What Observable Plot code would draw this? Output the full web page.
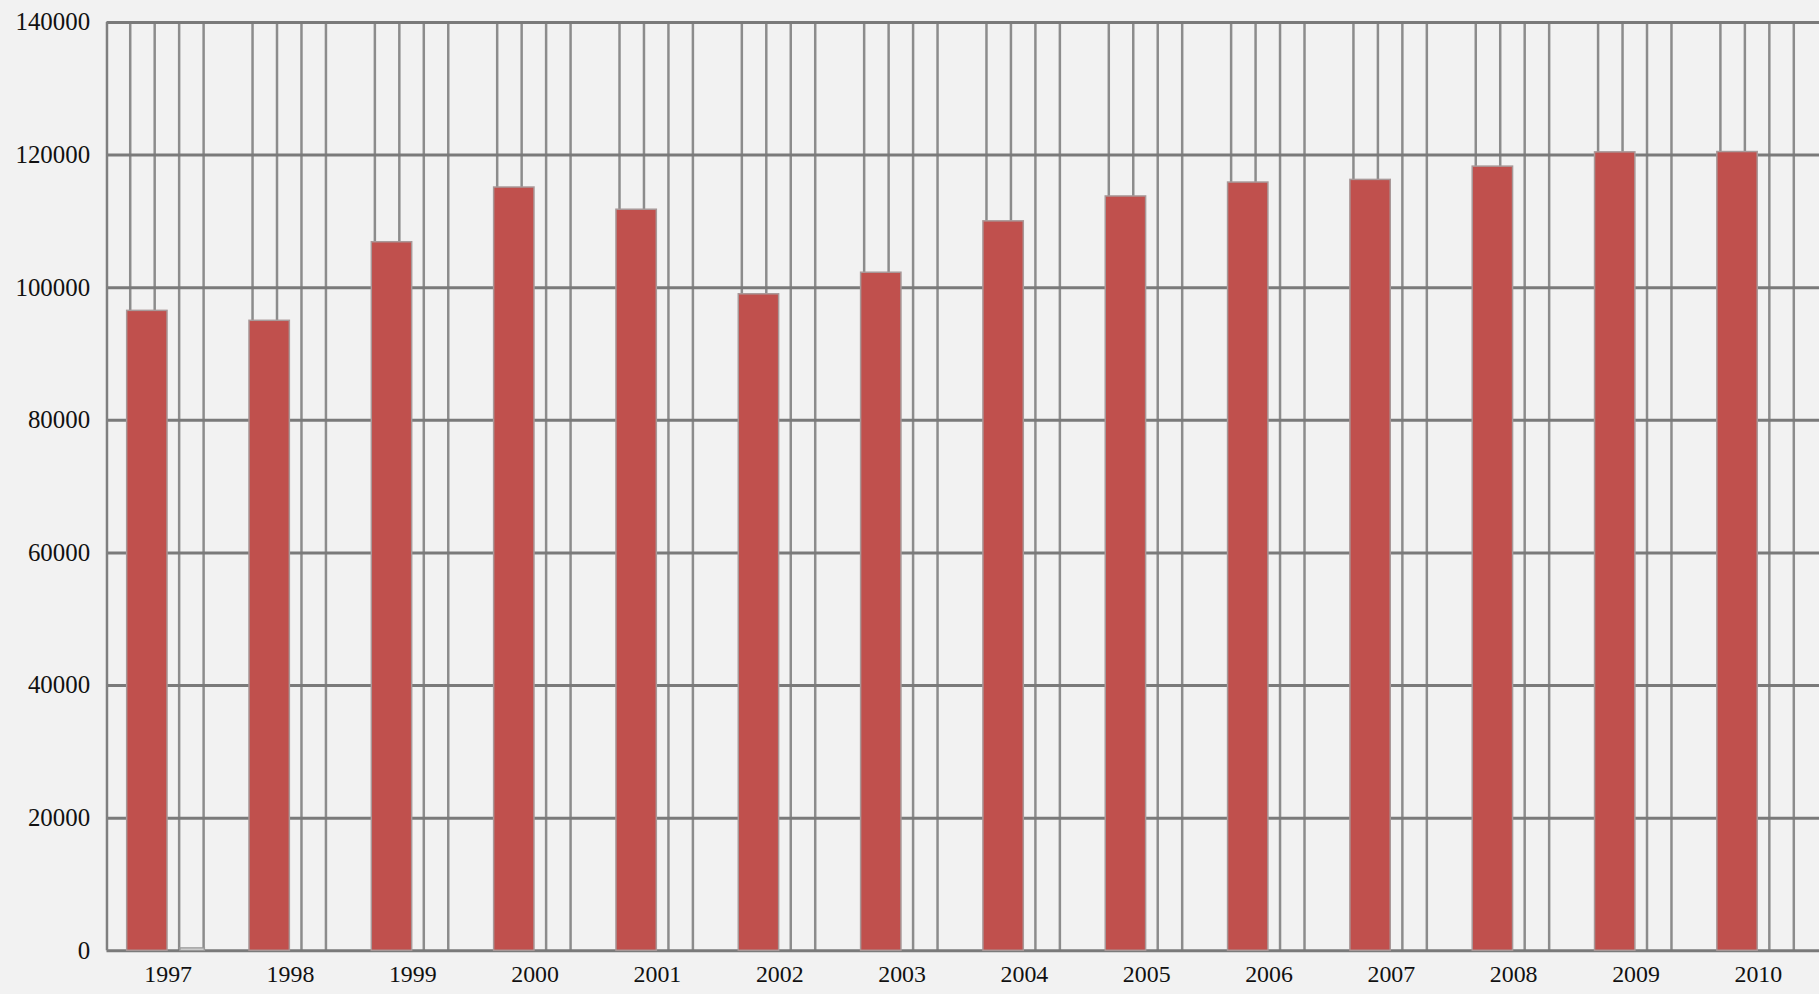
<!DOCTYPE html>
<html><head><meta charset="utf-8">
<script src="https://cdn.jsdelivr.net/npm/d3@7"></script>
<script src="https://cdn.jsdelivr.net/npm/@observablehq/plot@0.6"></script>
<style>html,body{margin:0;padding:0;background:#f2f2f2;overflow:hidden}</style>
</head><body><div id="chart"></div>
<script>
const years = [1997,1998,1999,2000,2001,2002,2003,2004,2005,2006,2007,2008,2009,2010];
const seriesA = [96500,95000,106850,115100,111750,99000,102250,110000,113750,115850,116250,118250,120400,120450];
const seriesB = [350,0,0,0,0,0,0,0,0,0,0,0,0,0];
const yTicks = [0,20000,40000,60000,80000,100000,120000,140000];
const gridFractions = [0.19,0.39,0.59,0.79];
const barA = [0.165,0.495];
const barB = [0.6,0.8];

const rowsA = years.map((y,i)=>({i, year:y, v:seriesA[i]}));
const rowsB = years.map((y,i)=>({i, year:y, v:seriesB[i]})).filter(d=>d.v>0);
const gridX = years.flatMap((y,i)=>gridFractions.map(f=>i+f));

const chart = Plot.plot({
  width: 1828, height: 994,
  marginLeft: 107, marginRight: 0, marginTop: 22, marginBottom: 39,
  style: {background:"#f2f2f2", fontFamily:"'Liberation Serif', serif", fontSize:"25px", color:"#111"},
  x: {domain:[0,14], axis:null},
  y: {domain:[0,140000], axis:null},
  marks: [
    Plot.ruleX(gridX, {y1:0, y2:140000, stroke:"#8c8c8c", strokeWidth:2.5}),
    Plot.ruleY(yTicks, {stroke:"#7a7a7a", strokeWidth:3}),
    Plot.ruleX([0], {y1:0, y2:140000, stroke:"#7f7f7f", strokeWidth:2.5}),
    Plot.rect(rowsA, {x1:d=>d.i+barA[0], x2:d=>d.i+barA[1], y1:0, y2:"v", fill:"#c0504d", stroke:"#a89898", strokeWidth:1.5}),
    Plot.rect(rowsB, {x1:d=>d.i+barB[0], x2:d=>d.i+barB[1], y1:0, y2:"v", fill:"#f6f6f6", stroke:"#9a9a9a", strokeWidth:1.5}),
    Plot.axisY({ticks:yTicks, label:null, tickSize:0, tickPadding:17, tickFormat:d=>String(d)}),
    Plot.axisX({ticks:years.map((y,i)=>i+0.5), label:null, tickSize:0, tickPadding:14, fontSize:24, tickFormat:d=>String(years[Math.floor(d)])})
  ]
});
document.getElementById("chart").appendChild(chart);
</script>
</body></html>
